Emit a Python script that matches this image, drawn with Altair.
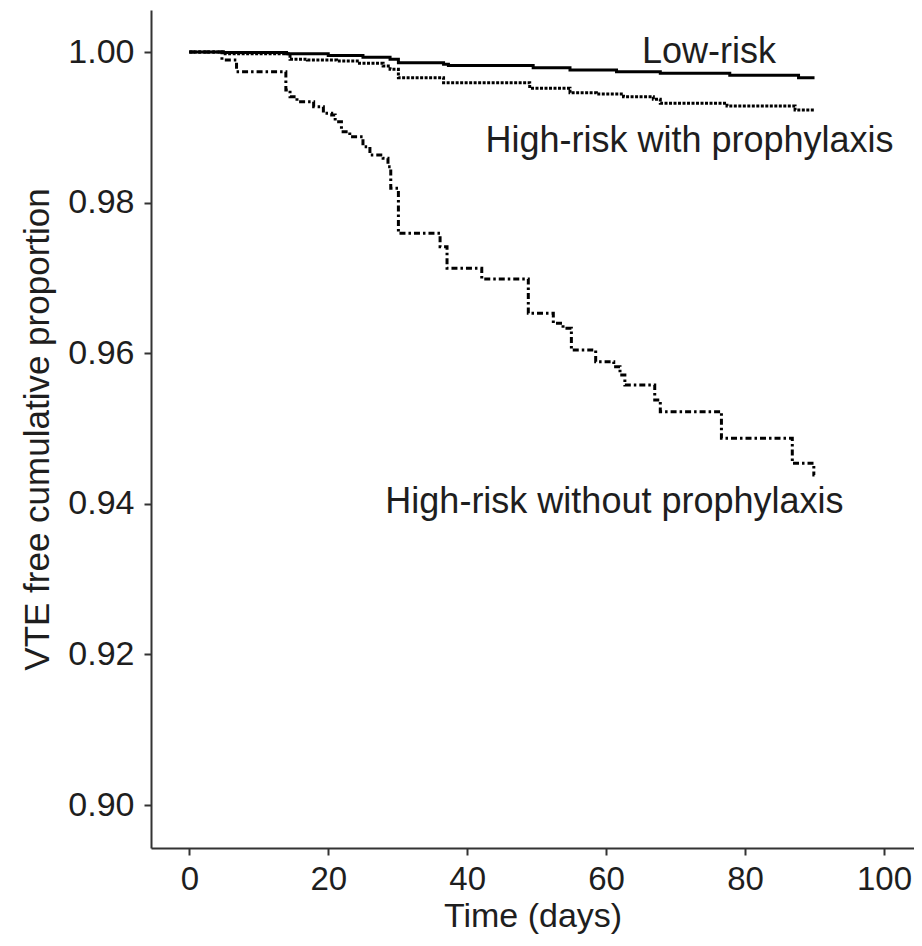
import altair as alt
import pandas as pd

# Low-risk (solid)
low_days = [0, 4.9, 14.0, 20.0, 25.0, 28.9, 30.1, 36.6, 37.3, 49.5, 54.8, 61.5, 67.8, 77.8, 87.7, 90.0]
low_vals = [1.0, 0.99993, 0.99978, 0.99955, 0.99930, 0.99903, 0.99858, 0.99836, 0.99820, 0.99792,
            0.99761, 0.99739, 0.99717, 0.99690, 0.99659, 0.99659]

# High-risk with prophylaxis (dotted)
pro_days = [0, 4.9, 14.5, 17.0, 21.2, 24.5, 27.9, 28.9, 30.1, 36.6, 49.0, 54.8, 58.6, 62.5, 66.8,
            67.8, 77.4, 87.2, 90.0]
pro_vals = [1.0, 0.99978, 0.99903, 0.99895, 0.99880, 0.99850, 0.99814, 0.99770, 0.99659, 0.99593,
            0.99518, 0.99460, 0.99442, 0.99406, 0.99372, 0.99319, 0.99283, 0.99230, 0.99230]

# High-risk without prophylaxis (dash-dot)
nopro_days = [0, 4.7, 6.8, 13.9, 14.5, 15.5, 17.9, 19.3, 20.5, 21.0, 21.9, 23.1, 25.0, 26.0, 27.9,
              28.6, 29.0, 30.1, 36.1, 37.1, 42.1, 48.8, 52.4, 53.8, 55.0, 58.5, 61.1, 62.0, 62.7,
              67.0, 67.8, 76.6, 86.8, 89.9, 90.0]
nopro_vals = [1.0, 0.99894, 0.99738, 0.99495, 0.99406, 0.99340, 0.99274, 0.99186, 0.99163, 0.99075,
              0.98942, 0.98875, 0.98743, 0.98632, 0.98588, 0.98477, 0.98190, 0.97592, 0.97414,
              0.97127, 0.96985, 0.96530, 0.96397, 0.96330, 0.96042, 0.95887, 0.95821, 0.95710,
              0.95578, 0.95378, 0.95223, 0.94870, 0.94538, 0.94382, 0.94382]

ann_labels = ["Low-risk", "High-risk with prophylaxis", "High-risk without prophylaxis"]
ann_x = [74.8, 72.0, 61.2]
ann_y = [0.99854, 0.98676, 0.93878]

x_ticks = [0, 20, 40, 60, 80, 100]
y_ticks = [0.90, 0.92, 0.94, 0.96, 0.98, 1.00]

df = pd.concat([
    pd.DataFrame({"day": low_days, "value": low_vals, "group": "low"}),
    pd.DataFrame({"day": pro_days, "value": pro_vals, "group": "pro"}),
    pd.DataFrame({"day": nopro_days, "value": nopro_vals, "group": "nopro"}),
])
ann = pd.DataFrame({"label": ann_labels, "day": ann_x, "value": ann_y})

FONT = "Liberation Sans"
TXT = "#1e1e1e"
AX = "#333333"

xscale = alt.Scale(domain=[-5.513, 104.32], nice=False, zero=False)
yscale = alt.Scale(domain=[0.89429, 1.005578], nice=False, zero=False)

xaxis = alt.Axis(values=x_ticks, title="Time (days)", grid=False, tickSize=7, tickWidth=2,
                 tickColor=AX, domainColor=AX, domainWidth=2, labelFontSize=33,
                 titleFontSize=34, labelPadding=8, titlePadding=3, labelColor=TXT,
                 titleColor=TXT, labelFont=FONT, titleFont=FONT, titleFontWeight="normal",
                 labelFlush=False, labelOverlap=False)
yaxis = alt.Axis(values=y_ticks, format=".2f", title="VTE free cumulative proportion", grid=False,
                 tickSize=7, tickWidth=2, tickColor=AX, domainColor=AX, domainWidth=2,
                 labelFontSize=34, titleFontSize=35, labelPadding=10, titlePadding=12,
                 labelColor=TXT, titleColor=TXT, labelFont=FONT, titleFont=FONT,
                 titleFontWeight="normal", labelFlush=False, labelOverlap=False)


def line(name, dash=None):
    kw = dict(interpolate="step-after", color="black", strokeWidth=3, clip=True)
    if dash:
        kw["strokeDash"] = dash
    return alt.Chart(df).transform_filter(alt.datum.group == name).mark_line(**kw).encode(
        x=alt.X("day:Q", scale=xscale, axis=xaxis),
        y=alt.Y("value:Q", scale=yscale, axis=yaxis),
    )


texts = alt.Chart(ann).mark_text(fontSize=36, font=FONT, color=TXT, align="center",
                                 baseline="alphabetic").encode(
    x=alt.X("day:Q", scale=xscale),
    y=alt.Y("value:Q", scale=yscale),
    text="label:N",
)

chart = alt.layer(
    line("low"),
    line("pro", [3, 1.5]),
    line("nopro", [6, 3, 2.5, 3]),
    texts,
).properties(
    width=763, height=838,
    autosize=alt.AutoSizeParams(type="none"),
    padding={"left": 143, "top": 2, "right": 0, "bottom": 90},
).configure_view(stroke=None)

chart.save("out.html", embed_options={"renderer": "svg", "actions": False})
